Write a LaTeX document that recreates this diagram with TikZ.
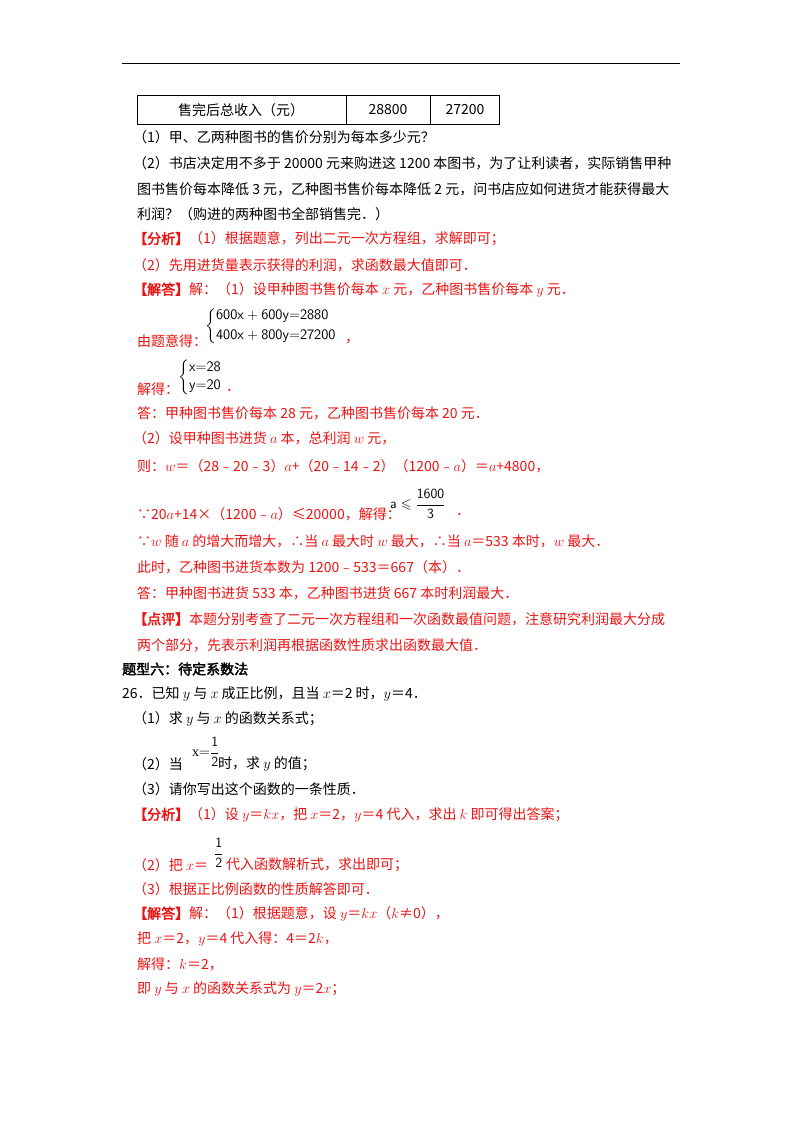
\documentclass[tikz,border=0pt]{standalone}
\usepackage{amsmath,amssymb}
\usepackage{fontspec}
\setmainfont{Liberation Serif}
\newfontfamily\cjk[AutoFakeBold=2.5]{Noto Sans CJK SC}
\definecolor{ansred}{RGB}{235,20,20}
\newcommand{\bk}[1]{\textbf{#1}}
\begin{document}
\begin{tikzpicture}[x=1pt,y=-1pt,
  txt/.style={anchor=west,inner sep=0pt,font=\cjk\fontsize{14}{16}\selectfont},
  red/.style={txt,text=ansred},
  frac/.style={inner sep=0pt,font=\fontsize{14}{16}\selectfont}]
\useasboundingbox (0,0) rectangle (800,1132);
\fill[white] (0,0) rectangle (800,1132);
\draw[line width=1pt] (122,64) -- (680,64);
% table
\draw[line width=0.8pt] (137,95) rectangle (499,124);
\draw[line width=0.8pt] (346,95) -- (346,124) (430,95) -- (430,124);
\node[txt,anchor=center] (t1) at (241,110) {售完后总收入（元）};
\node[txt,anchor=center] (t2) at (388,110) {28800};
\node[txt,anchor=center] (t3) at (465,110) {27200};
\node[txt] (l1) at (133,137) {（1）甲、乙两种图书的售价分别为每本多少元？};
\node[txt] (l2) at (133,163) {（2）书店决定用不多于 20000 元来购进这 1200 本图书，为了让利读者，实际销售甲种};
\node[txt] (l3) at (137,189) {图书售价每本降低 3 元，乙种图书售价每本降低 2 元，问书店应如何进货才能获得最大};
\node[txt] (l4) at (137,214) {利润？（购进的两种图书全部销售完．）};
\node[red] (l5) at (133,239) {\bk{【分析】}（1）根据题意，列出二元一次方程组，求解即可；};
\node[red] (l6) at (133,265) {（2）先用进货量表示获得的利润，求函数最大值即可．};
\node[red] (l7) at (133,290) {\bk{【解答】}解：（1）设甲种图书售价每本 $x$ 元，乙种图书售价每本 $y$ 元．};
\node[red] (l8) at (137,341) {由题意得：};
\node[anchor=west,inner sep=0pt,font=\fontsize{14.5}{16}\selectfont] (s1) at (205,326) {$\left\{\begin{array}{@{}l@{}}\mathsf{600x+600y{=}2880}\\[4pt]\mathsf{400x+800y{=}27200}\end{array}\right.$};
\node[red] (c1) at (345,342) {，};
\node[red] (l9) at (137,389) {解得：};
\node[anchor=west,inner sep=0pt,font=\fontsize{14.5}{16}\selectfont] (s2) at (178,377) {$\left\{\begin{array}{@{}l@{}}\mathsf{x{=}28}\\[2pt]\mathsf{y{=}20}\end{array}\right.$};
\node[red] (c2) at (226,390) {．};
\node[red] (l10) at (137,413) {答：甲种图书售价每本 28 元，乙种图书售价每本 20 元．};
\node[red] (l11) at (133,438) {（2）设甲种图书进货 $a$ 本，总利润 $w$ 元，};
\node[red] (l12) at (137,466) {则：$w$＝（28﹣20﹣3）$a$+（20﹣14﹣2）（1200﹣$a$）＝$a$+4800，};
\node[red] (l13) at (137,514) {∵20$a$+14×（1200﹣$a$）≤20000，解得：};
\node[frac,anchor=west] (f1) at (390,504) {$\mathsf{a}\leqslant\dfrac{\mathsf{1600}}{\mathsf{3}}$};
\node[red] (c3) at (456,514) {．};
\node[red] (l14) at (137,541) {∵$w$ 随 $a$ 的增大而增大，∴当 $a$ 最大时 $w$ 最大，∴当 $a$＝533 本时，$w$ 最大．};
\node[red] (l15) at (137,567) {此时，乙种图书进货本数为 1200﹣533＝667（本）．};
\node[red] (l16) at (137,593) {答：甲种图书进货 533 本，乙种图书进货 667 本时利润最大．};
\node[red] (l17) at (133,619) {\bk{【点评】}本题分别考查了二元一次方程组和一次函数最值问题，注意研究利润最大分成};
\node[red] (l18) at (137,645) {两个部分，先表示利润再根据函数性质求出函数最大值．};
\node[txt] (h1) at (122,669) {\bk{题型六：待定系数法}};
\node[txt] (q1) at (122,694) {26．已知 $y$ 与 $x$ 成正比例，且当 $x$＝2 时，$y$＝4．};
\node[txt] (q2) at (133,719) {（1）求 $y$ 与 $x$ 的函数关系式；};
\node[txt] (q3) at (133,764) {（2）当};
\node[frac,anchor=west] (f2) at (192,752) {$\mathrm{x{=}}\dfrac{\mathsf{1}}{\mathsf{2}}$};
\node[txt] (q3b) at (218,764) {时，求 $y$ 的值；};
\node[txt] (q4) at (133,789) {（3）请你写出这个函数的一条性质．};
\node[red] (a1) at (133,815) {\bk{【分析】}（1）设 $y$＝$kx$，把 $x$＝2，$y$＝4 代入，求出 $k$ 即可得出答案；};
\node[red] (a2) at (133,865) {（2）把 $x$＝};
\node[frac,anchor=west] (f3) at (214,853) {$\dfrac{\mathsf{1}}{\mathsf{2}}$};
\node[red] (a2b) at (226,865) {代入函数解析式，求出即可；};
\node[red] (a3) at (133,889) {（3）根据正比例函数的性质解答即可．};
\node[red] (a4) at (133,914) {\bk{【解答】}解：（1）根据题意，设 $y$＝$kx$（$k$≠0），};
\node[red] (a5) at (137,939) {把 $x$＝2，$y$＝4 代入得：4＝2$k$，};
\node[red] (a6) at (137,964) {解得：$k$＝2，};
\node[red] (a7) at (137,989) {即 $y$ 与 $x$ 的函数关系式为 $y$＝2$x$；};
\end{tikzpicture}
\end{document}
